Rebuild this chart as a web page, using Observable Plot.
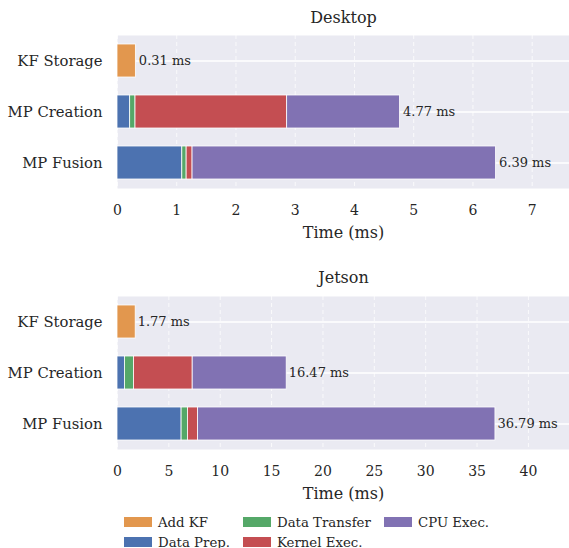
<!DOCTYPE html>
<html>
<head>
<meta charset="utf-8">
<script src="https://cdn.jsdelivr.net/npm/d3@7"></script>
<script src="https://cdn.jsdelivr.net/npm/@observablehq/plot@0.6"></script>
<style>
  body { margin: 0; background: #ffffff; font-family: "DejaVu Serif", serif; color: #262626; }
  #chart { width: 569px; }
  #chart svg { display: block; }
  .legend { position: relative; height: 44px; font-size: 13.3px; }
  .legend .item { position: absolute; display: flex; align-items: center; white-space: nowrap; }
  .legend .swatch { width: 28px; height: 10px; margin-right: 6px; }
</style>
</head>
<body>
<div id="chart"></div>
<script>
// Operations (rows) and execution stages (stack segments)
const operations = ["KF Storage", "MP Creation", "MP Fusion"];
const stages = ["Add KF", "Data Prep.", "Data Transfer", "Kernel Exec.", "CPU Exec."];
const stageColors = ["#E2974E", "#4C72B0", "#55A868", "#C44E52", "#8172B3"];

// Desktop timings in ms, one value per operation
const desktopAddKF        = [0.31, 0,     0];
const desktopDataPrep     = [0,    0.214, 1.094];
const desktopDataTransfer = [0,    0.09,  0.073];
const desktopKernelExec   = [0,    2.56,  0.10];
const desktopCpuExec      = [0,    1.906, 5.123];

// Jetson timings in ms
const jetsonAddKF        = [1.77, 0,    0];
const jetsonDataPrep     = [0,    0.72, 6.24];
const jetsonDataTransfer = [0,    0.88, 0.62];
const jetsonKernelExec   = [0,    5.72, 0.98];
const jetsonCpuExec      = [0,    9.15, 28.95];

// Axis ticks and limits
const desktopTicks = [0, 1, 2, 3, 4, 5, 6, 7];
const jetsonTicks = [0, 5, 10, 15, 20, 25, 30, 35, 40];
const desktopMax = 7.63;
const jetsonMax = 44.0;

function rows(series) {
  const out = [];
  operations.forEach((op, i) => {
    series.forEach((vals, s) => {
      if (vals[i] > 0) out.push({op, stage: stages[s], value: vals[i]});
    });
  });
  return out;
}

function totals(series) {
  return operations.map((op, i) => ({op, total: d3.sum(series, v => v[i])}));
}

function panel({title, series, ticks, max, marginTop, height, labelDx, titleDy}) {
  const data = rows(series);
  const tot = totals(series);
  return Plot.plot({
    width: 569,
    height,
    marginTop,
    marginBottom: 55,
    marginLeft: 117,
    marginRight: 0,
    style: {fontFamily: "DejaVu Serif", color: "#262626", background: "#ffffff"},
    x: {domain: [0, max], ticks, label: null},
    y: {domain: operations, paddingInner: 0.35, paddingOuter: 0.175, label: null},
    color: {domain: stages, range: stageColors},
    marks: [
      Plot.frame({fill: "#EAEAF2", stroke: null}),
      Plot.gridX({ticks, stroke: "#ffffff", strokeOpacity: 0.75, strokeDasharray: "4,3", strokeWidth: 1}),
      Plot.gridY({stroke: "#ffffff", strokeOpacity: 1, strokeWidth: 1.5}),
      Plot.barX(data, Plot.stackX({x: "value", y: "op", fill: "stage", stroke: "#ffffff", strokeWidth: 0.8})),
      Plot.text(tot, {x: "total", y: "op", text: d => `${d.total.toFixed(2)} ms`, textAnchor: "start", dx: labelDx, fontSize: 13, fill: "#262626"}),
      Plot.axisX({ticks, tickSize: 0, tickPadding: 17, fontSize: 14, tickFormat: d => String(d)}),
      Plot.axisY({tickSize: 0, tickPadding: 15, fontSize: 14.8}),
      Plot.text([title], {frameAnchor: "top", lineAnchor: "middle", dy: titleDy, fontSize: 16, fill: "#262626"}),
      Plot.text(["Time (ms)"], {frameAnchor: "bottom", lineAnchor: "middle", dy: 44, fontSize: 16, fill: "#262626"})
    ]
  });
}

const chart = document.getElementById("chart");
chart.append(panel({
  title: "Desktop",
  series: [desktopAddKF, desktopDataPrep, desktopDataTransfer, desktopKernelExec, desktopCpuExec],
  ticks: desktopTicks, max: desktopMax, marginTop: 35, height: 243, labelDx: 3, titleDy: -18
}));
chart.append(panel({
  title: "Jetson",
  series: [jetsonAddKF, jetsonDataPrep, jetsonDataTransfer, jetsonKernelExec, jetsonCpuExec],
  ticks: jetsonTicks, max: jetsonMax, marginTop: 53, height: 261, labelDx: 2, titleDy: -19
}));

// Legend laid out in two rows, filled column by column
const legend = document.createElement("div");
legend.className = "legend";
const colX = [124, 243, 384];
const rowY = [18, 38];
stages.forEach((s, i) => {
  const item = document.createElement("div");
  item.className = "item";
  item.style.left = colX[Math.floor(i / 2)] + "px";
  item.style.top = (rowY[i % 2] - 8) + "px";
  item.style.height = "16px";
  const sw = document.createElement("span");
  sw.className = "swatch";
  sw.style.background = stageColors[i];
  const label = document.createElement("span");
  label.textContent = s;
  item.append(sw, label);
  legend.append(item);
});
chart.append(legend);
</script>
</body>
</html>
